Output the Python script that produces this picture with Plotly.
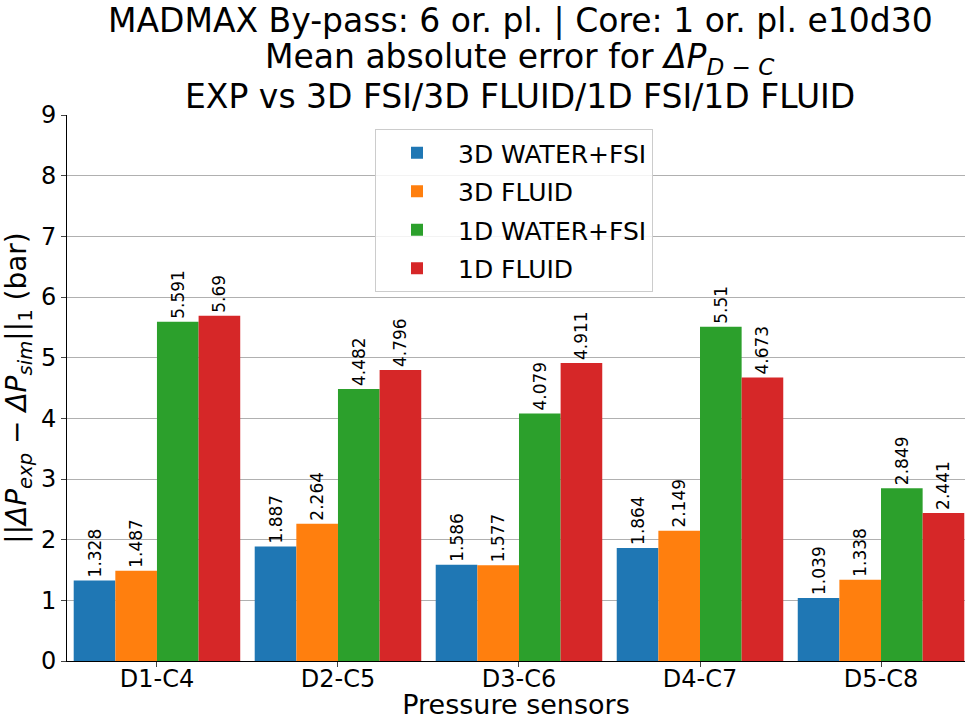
import plotly.graph_objects as go

categories = ["D1-C4", "D2-C5", "D3-C6", "D4-C7", "D5-C8"]
series_names = ["3D WATER+FSI", "3D FLUID", "1D WATER+FSI", "1D FLUID"]
water3d = [1.328, 1.887, 1.586, 1.864, 1.039]
fluid3d = [1.487, 2.264, 1.577, 2.149, 1.338]
water1d = [5.591, 4.482, 4.079, 5.51, 2.849]
fluid1d = [5.69, 4.796, 4.911, 4.673, 2.441]
colors = ["#1f77b4", "#ff7f0e", "#2ca02c", "#d62728"]
title_lines = [
    "MADMAX By-pass: 6 or. pl. | Core: 1 or. pl. e10d30",
    "Mean absolute error for <i>ΔP</i><sub><i>D − C</i></sub>",
    "EXP vs 3D FSI/3D FLUID/1D FSI/1D FLUID",
]

series = [water3d, fluid3d, water1d, fluid1d]
xpos = list(range(len(categories)))
bw = 0.23
offsets = [-2 * bw, -bw, 0, bw]

W, H = 965, 720
L, R, T, B = 67, 0, 115, 59
plot_h = H - T - B

fig = go.Figure()
for i, (name, vals, col, off) in enumerate(zip(series_names, series, colors, offsets)):
    fig.add_trace(go.Bar(
        x=xpos, y=vals, name=name, marker_color=col, marker_line_width=0,
        width=bw, offset=off, legendgroup=f"g{i}",
        text=[f"{v:g}" for v in vals], textposition="outside", textangle=-90,
        constraintext="none",
        textfont=dict(size=17, color="black", family="DejaVu Sans"),
        cliponaxis=False,
    ))

title_y_px = [21, 59, 97]
for txt, ypx in zip(title_lines, title_y_px):
    fig.add_annotation(
        text=txt, xref="paper", yref="paper",
        x=(520 - L) / (W - L - R), y=(H - B - ypx) / plot_h,
        xanchor="center", yanchor="middle", showarrow=False,
        font=dict(size=33, family="DejaVu Sans", color="black"),
    )

fig.update_layout(
    width=W, height=H,
    margin=dict(l=L, r=R, t=T, b=B),
    plot_bgcolor="white", paper_bgcolor="white",
    font=dict(family="DejaVu Sans", color="black"),
    barmode="overlay",
    showlegend=True,
    legend=dict(
        x=(375 - L) / (W - L - R), y=(H - B - 129) / plot_h, xanchor="left", yanchor="top",
        bgcolor="rgba(255,255,255,0.85)", bordercolor="#cccccc", borderwidth=1,
        font=dict(size=25), traceorder="grouped", tracegroupgap=3, itemwidth=72,
    ),
    xaxis=dict(
        range=[-0.497, 4.464], tickmode="array", tickvals=xpos, ticktext=categories,
        showline=True, linecolor="black", linewidth=1, ticks="outside", ticklen=5,
        tickfont=dict(size=24), showgrid=False, mirror=False, ticklabelstandoff=-9,
        title=dict(text="Pressure sensors", font=dict(size=27), standoff=7),
    ),
    yaxis=dict(
        range=[0, 9], dtick=1, showline=True, linecolor="black", linewidth=1,
        ticks="outside", ticklen=5, tickfont=dict(size=24),
        showgrid=True, gridcolor="#b0b0b0", gridwidth=1, zeroline=False,
        title=dict(text="||<i>ΔP</i><sub><i>exp</i></sub> − <i>ΔP</i><sub><i>sim</i></sub>||<sub>1</sub> (bar)",
                   font=dict(size=28), standoff=6),
    ),
)

fig.write_html("out.html", config={"displayModeBar": False},
               post_script="document.body.style.margin='0';document.body.style.overflow='hidden';")
